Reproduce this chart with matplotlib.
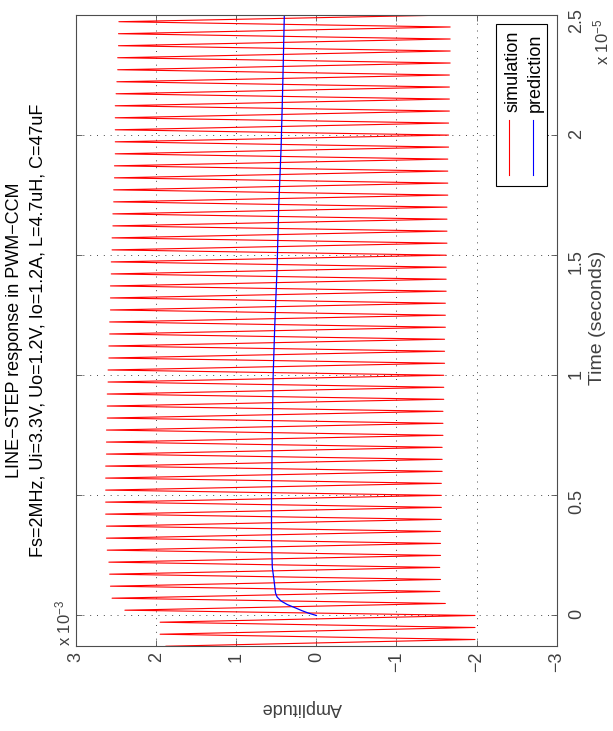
#!/usr/bin/env python3

import numpy as np
import matplotlib
matplotlib.use('Agg')
from matplotlib import pyplot as plt

plt.rcParams['font.family'] = ['Liberation Sans', 'DejaVu Sans']
plt.rcParams['mathtext.default'] = 'regular'

T_SW = 0.5e-6      # switching period (Fs = 2 MHz)
T_PK = 0.22e-6     # ripple peak position inside a period
K0 = -3            # index of the first switching period

# output ripple, amplitude in 1e-3 units
# troughs at k*T_SW, k = -3 .. 50
troughs = [-1.98, -1.98, -1.98, -1.98,
           -1.61, -1.54, -1.55, -1.54, -1.55, -1.55, -1.55, -1.56, -1.56, -1.56,
           -1.56, -1.57, -1.57, -1.57, -1.58, -1.58, -1.58, -1.59, -1.59, -1.59,
           -1.60, -1.60, -1.60, -1.61, -1.61, -1.61, -1.62, -1.62, -1.62, -1.62,
           -1.63, -1.63, -1.63, -1.63, -1.64, -1.64, -1.64, -1.64, -1.65, -1.65,
           -1.65, -1.66, -1.66, -1.66, -1.66, -1.67, -1.67, -1.67, -1.67, -1.68]
# peaks at k*T_SW + T_PK, k = -3 .. 49
peaks = [1.88, 1.95, 1.95,
         2.39, 2.55, 2.57, 2.58, 2.59, 2.61, 2.62, 2.62, 2.63, 2.63,
         2.63, 2.63, 2.63, 2.62, 2.62, 2.62, 2.61, 2.61, 2.61, 2.60,
         2.60, 2.59, 2.59, 2.58, 2.58, 2.57, 2.57, 2.57, 2.56, 2.56,
         2.55, 2.55, 2.54, 2.54, 2.53, 2.53, 2.52, 2.52, 2.51, 2.51,
         2.51, 2.51, 2.51, 2.50, 2.49, 2.48, 2.48, 2.47, 2.47, 2.465]

# averaged model (time in us, amplitude in 1e-3 units)
pred_t = [0, 0.1, 0.2, 0.3, 0.45, 0.6, 0.77, 0.94, 1.5, 2.0, 3.2, 5.0,
          7.5, 9.9, 12.0, 14.5, 17.0, 19.5, 22.0, 25.0]
pred_v = [0, 0.10, 0.18, 0.25, 0.36, 0.44, 0.49, 0.51, 0.53, 0.55, 0.56, 0.56,
          0.55, 0.54, 0.52, 0.49, 0.47, 0.44, 0.42, 0.40]

amp_ticks = [-3, -2, -1, 0, 1, 2, 3]
time_ticks = [0, 0.5, 1, 1.5, 2, 2.5]
time_labels = ['0', '0.5', '1', '1.5', '2', '2.5']

TXT = '#404040'
FS = 13


def ripple():
    t, v = [], []
    for i, tr in enumerate(troughs):
        k = K0 + i
        t.append(k * T_SW)
        v.append(tr)
        if i < len(peaks):
            t.append(k * T_SW + T_PK)
            v.append(peaks[i])
    return np.array(t), np.array(v)


def main():
    fig = plt.figure(figsize=(6.13, 7.31), dpi=100)
    ax = fig.add_axes([0.124, 0.1163, 0.7842, 0.8632])

    # page is printed landscape: time runs upward, amplitude right to left
    t_sim, v_sim = ripple()
    ax.plot(v_sim, t_sim / 1e-5, color='#ff0000', lw=0.8)
    ax.plot(pred_v, np.array(pred_t) * 1e-6 / 1e-5, color='#0000ff', lw=0.9)

    ax.set_xlim(3, -3)
    ax.set_ylim(-0.127, 2.5)
    ax.set_xticks(amp_ticks)
    ax.set_yticks(time_ticks)
    ax.set_yticklabels(time_labels)
    ax.tick_params(axis='both', direction='in', length=4, width=0.6,
                   colors='#4d4d4d', labelcolor=TXT, labelsize=FS,
                   top=True, bottom=True, left=True, right=True,
                   labelleft=False, labelright=True)
    ax.tick_params(axis='x', labelrotation=90, pad=4)
    ax.tick_params(axis='y', labelrotation=90, pad=8)
    for s in ax.spines.values():
        s.set_color('#4d4d4d')
        s.set_linewidth(0.8)
    ax.grid(True, linestyle=(0, (1.2, 7)), color='#303030', lw=0.6)
    ax.set_axisbelow(True)

    ax.text(1.084, 0.52, 'Time (seconds)', transform=ax.transAxes,
            rotation=90, ha='center', va='center', fontsize=FS + 1, color=TXT)
    ax.text(0.47, -0.098, 'Amplitude', transform=ax.transAxes,
            rotation=180, ha='center', va='center', fontsize=FS, color=TXT)
    ax.text(-0.027, 0.0, r'x 10$^{-3}$', transform=ax.transAxes,
            rotation=90, ha='center', va='bottom', fontsize=FS - 1, color=TXT)
    ax.text(1.092, 0.92, r'x 10$^{-5}$', transform=ax.transAxes,
            rotation=90, ha='center', va='bottom', fontsize=FS - 1, color=TXT)

    fig.text(0.0237, 0.5486, 'LINE\u2212STEP response in PWM\u2212CCM',
             rotation=90, ha='center', va='center', fontsize=FS, color='k')
    fig.text(0.0612, 0.5486,
             'Fs=2MHz, Ui=3.3V, Uo=1.2V, Io=1.2A, L=4.7uH, C=47uF',
             rotation=90, ha='center', va='center', fontsize=FS, color='k')

    # legend box, drawn sideways like the rest of the page
    ax.add_patch(plt.Rectangle((0.874, 0.7295), 0.106, 0.2562,
                               transform=ax.transAxes, fill=True,
                               facecolor='white', edgecolor='k', lw=0.8,
                               zorder=5))
    ax.plot([0.901, 0.901], [0.7464, 0.8336], transform=ax.transAxes,
            color='#ff0000', lw=0.8, zorder=6)
    ax.plot([0.9507, 0.9507], [0.7464, 0.8336], transform=ax.transAxes,
            color='#0000ff', lw=0.8, zorder=6)
    ax.text(0.909, 0.846, 'simulation', transform=ax.transAxes, rotation=90,
            ha='center', va='bottom', fontsize=FS, color='k', zorder=6)
    ax.text(0.955, 0.846, 'prediction', transform=ax.transAxes, rotation=90,
            ha='center', va='bottom', fontsize=FS, color='k', zorder=6)

    fig.savefig('out.png', dpi=100)


if __name__ == '__main__':
    main()
